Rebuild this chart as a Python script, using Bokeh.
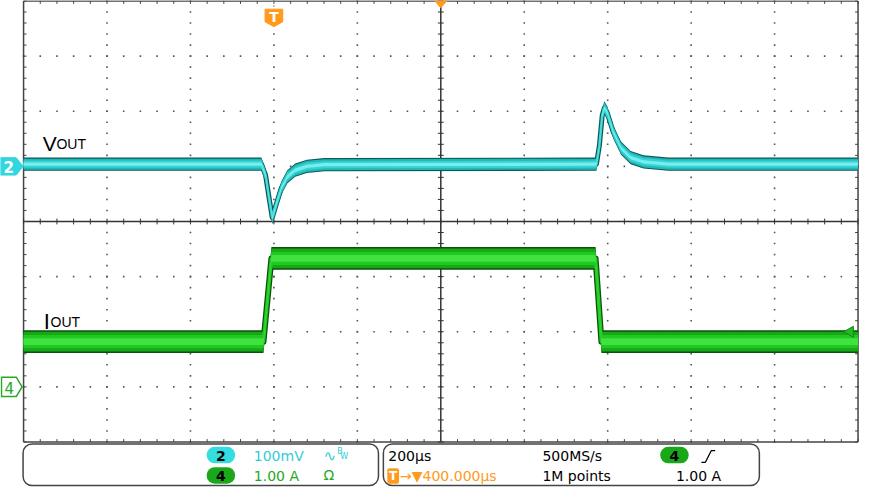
import math
import numpy as np
from bokeh.plotting import figure
from bokeh.models import Range1d
from bokeh.core.properties import value
from bokeh.embed import file_html
from bokeh.resources import INLINE

# ---------------- data (read from the scope capture) ----------------
# Channel 2: VOUT (AC), 100 mV/div ; time in microseconds relative to trigger
t_vout_us = [-600, -30, -20, -11, -4, 6, 18, 32, 51, 79, 121, 773, 780, 787, 792, 799, 813, 832, 855, 886, 945, 1400]
vout_mv = [4, 4, -16, -60, -93, -68, -39, -19, -7, 0, 3, 4, 37, 93, 106, 97, 63, 33, 16, 8, 4, 4]
# Channel 4: IOUT, 1.00 A/div
t_iout_us = [-600, -25, -6, 771, 785, 1400]
iout_a = [0.82, 0.82, 2.33, 2.33, 0.82, 0.82]

# scope settings / texts
TIME_DIV_US = 200
H_DELAY_US = 400
CH2_SCALE_MV = 100
CH4_SCALE_A = 1.0
CH2_REF_DIV = 1      # divisions above screen centre
CH4_REF_DIV = -3
TRIG_LEVEL_A = 1.0
row1_left = ["100mV"]
row2_left = ["1.00 A"]
right_row1 = ["200\u00b5s", "500MS/s"]
right_row2 = ["1M points", "1.00 A"]
delay_text = "\u2192\u25bc400.000\u00b5s"

# ---------------- layout (screen-like units of the original capture) ----------------
FW, FH = 875.0, 503.0
GL, GR, GT, GB = 23.5, 873.5, 0.5, 456.0
NX, NY = 10, 8
DX = (GR - GL) / NX
DY = (GB - GT) / NY
YC = GT + DY * NY / 2
XC = GL + DX * NX / 2

W, H = 859, 487
p = figure(width=W, height=H, x_range=Range1d(0, FW), y_range=Range1d(FH, 0),
           output_backend="svg", toolbar_location=None,
           x_axis_type=None, y_axis_type=None, min_border=0,
           min_border_left=0, min_border_right=0, min_border_top=0, min_border_bottom=0)
p.grid.visible = False
p.outline_line_color = None
p.background_fill_color = "white"
p.border_fill_color = "white"

# data ranges aligned with the graticule
t_left = H_DELAY_US - TIME_DIV_US * NX / 2
def t_at(px):
    return t_left + (px - GL) / DX * TIME_DIV_US
ch2_ref_px = YC - CH2_REF_DIV * DY
ch4_ref_px = YC - CH4_REF_DIV * DY
def mv_at(py):
    return (ch2_ref_px - py) / DY * CH2_SCALE_MV
def a_at(py):
    return (ch4_ref_px - py) / DY * CH4_SCALE_A
p.extra_x_ranges = {"t": Range1d(t_at(0), t_at(FW))}
p.extra_y_ranges = {"mv": Range1d(mv_at(FH), mv_at(0)), "amp": Range1d(a_at(FH), a_at(0))}

# ---------------- graticule ----------------
dot_x, dot_y = [], []
for k in range(1, NX):
    if k == NX // 2:
        continue
    ys = GT + np.arange(0, NY * 5 + 1) * DY / 5
    dot_x += [GL + k * DX] * len(ys)
    dot_y += list(ys)
for m in range(1, NY):
    if m == NY // 2:
        continue
    xs = GL + np.arange(0, NX * 5 + 1) * DX / 5
    dot_x += list(xs)
    dot_y += [GT + m * DY] * len(xs)
p.scatter(dot_x, dot_y, marker="square", size=1.6, fill_color="#555555", line_color=None)

edge = "#444444"
p.segment(x0=[GL, GR, GL, GL], y0=[GT, GT, GT, GB], x1=[GL, GR, GR, GR], y1=[GB, GB, GT, GB],
          line_color=edge, line_width=1.5)
p.segment(x0=[XC, GL], y0=[GT, YC], x1=[XC, GR], y1=[GB, YC], line_color="#333333", line_width=1.5)
tx = GL + np.arange(0, NX * 5 + 1) * DX / 5
ty = GT + np.arange(0, NY * 5 + 1) * DY / 5
p.segment(x0=tx, y0=[YC - 3] * len(tx), x1=tx, y1=[YC + 3] * len(tx), line_color="#333333", line_width=1)
p.segment(x0=[XC - 3] * len(ty), y0=ty, x1=[XC + 3] * len(ty), y1=ty, line_color="#333333", line_width=1)
p.segment(x0=tx, y0=[GT] * len(tx), x1=tx, y1=[GT + 3] * len(tx), line_color=edge, line_width=1)
p.segment(x0=tx, y0=[GB - 3] * len(tx), x1=tx, y1=[GB] * len(tx), line_color=edge, line_width=1)
p.segment(x0=[GL] * len(ty), y0=ty, x1=[GL + 3] * len(ty), y1=ty, line_color=edge, line_width=1)
p.segment(x0=[GR - 3] * len(ty), y0=ty, x1=[GR] * len(ty), y1=ty, line_color=edge, line_width=1)

# ---------------- traces (persistence bands) ----------------
ti = np.array(t_iout_us, dtype=float)
ia = np.array(iout_a, dtype=float)
tv = np.array(t_vout_us, dtype=float)
vm = np.array(vout_mv, dtype=float)

def band(x, y, yr, layers):
    for kind, hw, col in layers:
        if kind == "a":
            p.varea(x=x, y1=y - hw, y2=y + hw, x_range_name="t", y_range_name=yr, fill_color=col)
        else:
            p.line(x, y, x_range_name="t", y_range_name=yr, line_width=hw, line_color=col,
                   line_join="round", line_cap="butt")

band(ti, ia, "amp", [("a", 0.205, "#0b500b"), ("l", 6, "#0b500b"), ("a", 0.18, "#16a816"),
                     ("l", 3.5, "#22cc22"), ("a", 0.12, "#22c822"), ("a", 0.06, "#3fe23f")])
band(tv, vm, "mv", [("a", 12, "#0a5a5a"), ("l", 5, "#0a5a5a"), ("a", 10, "#23b8b8"),
                    ("l", 2.5, "#44d8d8"), ("a", 6.5, "#38d0d0"), ("a", 3, "#74eeee")])

# ---------------- markers ----------------
p.patch([0, 16, 23, 16, 0], [ch2_ref_px - 9, ch2_ref_px - 9, ch2_ref_px, ch2_ref_px + 9, ch2_ref_px + 9],
        fill_color="#33d6e0", line_color="#33d6e0")
p.text([3], [ch2_ref_px + 1], text=["2"], text_font=value("DejaVu Sans"), text_font_size="15px",
       text_color="white", text_baseline="middle", text_align="left", text_font_style="bold")
p.patch([1, 16, 22, 16, 1], [ch4_ref_px - 10, ch4_ref_px - 10, ch4_ref_px, ch4_ref_px + 10, ch4_ref_px + 10],
        fill_color="white", line_color="#22aa22", line_width=1.5)
p.text([4], [ch4_ref_px + 1], text=["4"], text_font=value("DejaVu Sans"), text_font_size="15px",
       text_color="#22aa22", text_baseline="middle", text_align="left")
p.scatter([GR - 8], [TRIG_LEVEL_A], y_range_name="amp", marker="triangle", angle=math.pi / 2,
          size=11, fill_color="#22bb22", line_color="#118811")
trig_px = GL + (0 - t_left) / TIME_DIV_US * DX
p.segment(x0=[trig_px], y0=[GT], x1=[trig_px], y1=[9], line_color="#999999", line_dash="2 2")
p.patch([trig_px - 9, trig_px + 9, trig_px + 9, trig_px, trig_px - 9], [9, 9, 22, 27, 22],
        fill_color="#ff9a1a", line_color="#ff9a1a")
p.text([trig_px], [17], text=["T"], text_font=value("DejaVu Sans"), text_font_size="14px",
       text_color="white", text_baseline="middle", text_align="center", text_font_style="bold")
p.patch([XC - 6, XC + 6, XC], [GT, GT, GT + 7], fill_color="#ff9a1a", line_color="#ff9a1a")

lab = value("Liberation Sans")
p.text([43], [148], text=["V"], text_font=lab, text_font_size="21px", text_color="black", text_baseline="alphabetic")
p.text([57], [148], text=["OUT"], text_font=lab, text_font_size="14px", text_color="black", text_baseline="alphabetic")
p.text([44], [332], text=["I"], text_font=lab, text_font_size="22px", text_color="black", text_baseline="alphabetic")
p.text([51], [332], text=["OUT"], text_font=lab, text_font_size="14px", text_color="black", text_baseline="alphabetic")

# ---------------- status bar ----------------
p.quad(left=[23, 390], right=[385, 773], top=[458, 458], bottom=[501, 501], border_radius=9,
       fill_color="white", line_color="#444444", line_width=1.5)
p.quad(left=[210, 210, 672], right=[239, 239, 701], top=[461, 482, 461], bottom=[478, 499, 478],
       border_radius=8, fill_color=["#33dde0", "#1aa81a", "#1aa81a"], line_color=None)
sb = value("DejaVu Sans")
p.text([224.5, 224.5, 686.5], [470, 491, 470], text=["2", "4", "4"], text_font=sb, text_font_size="14px",
       text_color="black", text_baseline="middle", text_align="center", text_font_style="bold")
p.text([258], [470], text=row1_left, text_font=sb, text_font_size="14px", text_color="#33ccd6",
       text_baseline="middle")
p.text([258], [491], text=row2_left, text_font=sb, text_font_size="14px", text_color="#22aa22",
       text_baseline="middle")
p.text([329], [470], text=["\u223f"], text_font=sb, text_font_size="15px", text_color="#33ccd6",
       text_baseline="middle")
p.text([343, 346], [466, 471], text=["B", "W"], text_font=sb, text_font_size="8px", text_color="#33ccd6",
       text_baseline="middle")
p.text([329], [490], text=["\u03a9"], text_font=sb, text_font_size="14px", text_color="#22aa22",
       text_baseline="middle")
p.text([395, 552], [470, 470], text=right_row1, text_font=sb, text_font_size="14px", text_color="black",
       text_baseline="middle")
p.text([552, 688], [491, 491], text=right_row2, text_font=sb, text_font_size="14px", text_color="black",
       text_baseline="middle")
p.line([714, 718, 724, 728], [477, 477, 465, 465], line_color="black", line_width=1.3)
p.quad(left=[394], right=[406], top=[483], bottom=[499], border_radius=2, fill_color="#ff9a1a", line_color=None)
p.text([400], [491], text=["T"], text_font=sb, text_font_size="12px", text_color="white",
       text_baseline="middle", text_align="center", text_font_style="bold")
p.text([407], [491], text=[delay_text], text_font=sb, text_font_size="14px", text_color="#ff9a1a",
       text_baseline="middle")

open("out.html", "w").write(file_html(p, INLINE))
